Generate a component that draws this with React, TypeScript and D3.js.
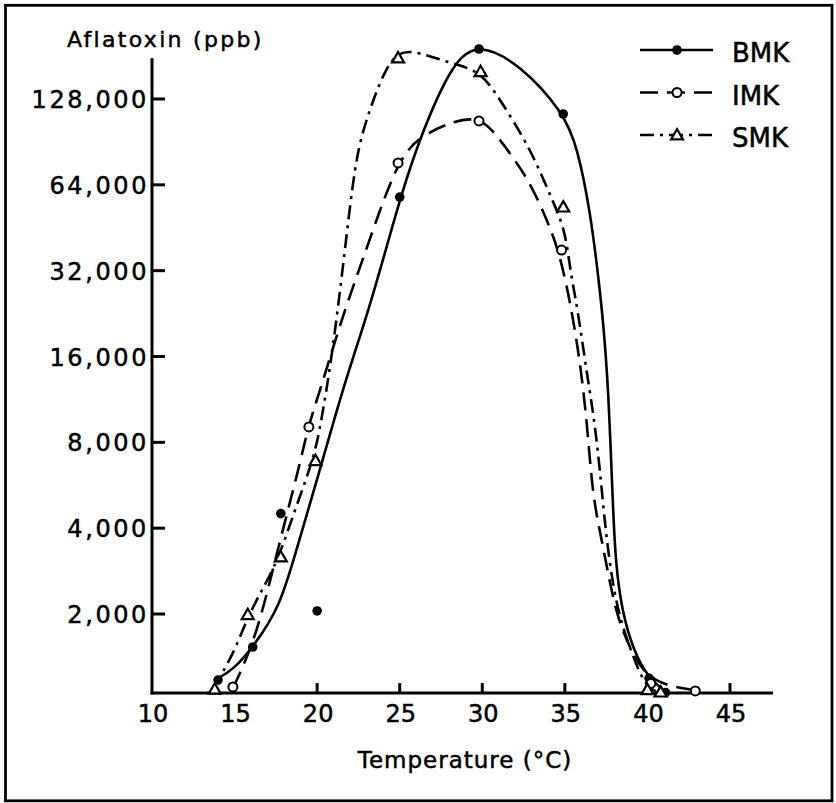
import React from "react";
import * as d3 from "d3";

const W = 836;
const H = 803;

// Axis ticks
const xTicks = [10, 15, 20, 25, 30, 35, 40, 45];
const yTicks = [2000, 4000, 8000, 16000, 32000, 64000, 128000];

const seriesNames = ["BMK", "IMK", "SMK"];

// Measured points: [temperature °C, aflatoxin ppb]
const bmkPoints = [
  [14, 1173], [16.1, 1532], [17.8, 4500], [20, 2050], [25, 58000],
  [29.8, 191700], [34.9, 113400], [40.1, 1190], [41.1, 1060],
];
const imkPoints = [
  [14.9, 1110], [19.5, 9060], [24.9, 76400], [29.8, 107200],
  [34.8, 37800], [40.2, 1140], [42.9, 1075],
];
const smkPoints = [
  [13.8, 1090], [15.8, 1990], [17.8, 3170], [19.9, 6900], [24.9, 178300],
  [29.9, 159600], [34.9, 53500], [40, 1085], [40.8, 1065],
];

// Fitted curves (hand-drawn in original)
const bmkCurve = [
  [13.82, 1173], [14.91, 1272], [16.12, 1532], [17.76, 2115], [18.79, 3436],
  [20.0, 5902], [21.7, 13240], [23.21, 23870], [25.03, 58000], [26.24, 94200],
  [28.18, 172000], [29.76, 202000], [32.3, 169000], [34.9, 115000],
  [35.76, 86900], [36.55, 51000], [37.03, 30400], [37.33, 21000],
  [37.64, 12200], [37.88, 5310], [38.06, 3020], [38.48, 2016], [39.15, 1496],
  [40.0, 1201], [41.2, 1056],
];
const imkCurve = [
  [14.91, 1100], [16.24, 1622], [17.27, 2786], [18.18, 4520], [18.97, 6770],
  [19.45, 9060], [20.18, 12200], [20.97, 17270], [21.82, 24650],
  [23.03, 38740], [24.85, 78000], [26.24, 95000], [28.24, 107000],
  [29.82, 111000], [30.91, 95000], [31.88, 79500], [32.91, 65000],
  [34.12, 45500], [34.85, 34000], [35.76, 18300], [36.36, 9350],
  [36.67, 5145], [37.33, 3435], [38.06, 2016], [38.97, 1500], [39.88, 1220],
  [41.2, 1118], [42.9, 1080],
];
const smkCurve = [
  [13.7, 1100], [14.91, 1436], [15.76, 1936], [16.67, 2430], [17.64, 3093],
  [18.79, 4900], [19.88, 7220], [20.36, 10390], [20.79, 14700],
  [21.27, 23870], [21.7, 38740], [22.3, 76400], [22.79, 99700],
  [23.39, 127000], [24.12, 162000], [24.91, 188000], [26.06, 188000],
  [28.18, 170000], [29.88, 161000], [31.09, 127000], [32.48, 94200],
  [33.39, 73900], [34.24, 56600], [35.03, 44400], [35.33, 31650],
  [35.76, 23870], [36.36, 13560], [36.73, 10140], [37.15, 6245],
  [37.45, 3940], [38.06, 2150], [38.97, 1500], [39.88, 1100], [40.8, 1060],
];

const X_MIN = 10;
const X_MAX = 47.6;
const Y_FLOOR = 1056;
const Y_TOP = 178000;

const x = d3.scaleLinear().domain([10, 45]).range([152, 730]);
const y = d3.scaleLog().base(2).domain([2000, 128000]).range([614, 99]);
const yc = (v: number) => y(Math.max(v, Y_FLOOR));

const line = d3
  .line<number[]>()
  .x((d) => x(d[0]))
  .y((d) => yc(d[1]))
  .curve(d3.curveBasis);

const fmt = d3.format(",");
const FONT = "'DejaVu Sans', sans-serif";
const TS = { stroke: "#000", strokeWidth: 0.5 };

const styles: Record<string, { dash: string | undefined; marker: string }> = {
  BMK: { dash: undefined, marker: "filled" },
  IMK: { dash: "18 9", marker: "circle" },
  SMK: { dash: "14 6 3 6", marker: "triangle" },
};

const tri = d3.symbol(d3.symbolTriangle, 62)() as string;

function Marker({ kind, cx, cy }: { kind: string; cx: number; cy: number }) {
  if (kind === "filled") return <circle cx={cx} cy={cy} r={4.8} fill="#000" />;
  if (kind === "circle")
    return <circle cx={cx} cy={cy} r={4.5} fill="#fff" stroke="#000" strokeWidth={2} />;
  return (
    <path d={tri} transform={`translate(${cx},${cy + 1})`} fill="#fff" stroke="#000" strokeWidth={2.2} />
  );
}

export default function App() {
  const series = [
    { name: "BMK", curve: bmkCurve, points: bmkPoints },
    { name: "IMK", curve: imkCurve, points: imkPoints },
    { name: "SMK", curve: smkCurve, points: smkPoints },
  ];
  const y0 = y(Y_FLOOR);
  return (
    <svg
      width={W}
      height={H}
      style={{ position: "absolute", left: 0, top: 0, background: "#fff" }}
    >
      <rect x={0} y={0} width={W} height={H} fill="#fff" />
      <rect x={5.5} y={5.3} width={826.5} height={795.5} fill="none" stroke="#000" strokeWidth={2.8} />

      {/* axes */}
      <line x1={x(X_MIN)} x2={x(X_MIN)} y1={y(Y_TOP)} y2={y0 + 1.5} stroke="#000" strokeWidth={3} />
      <line x1={x(X_MIN) - 1.5} x2={x(X_MAX)} y1={y0} y2={y0} stroke="#000" strokeWidth={3} />
      {yTicks.map((t) => (
        <g key={t}>
          <line x1={x(X_MIN)} x2={x(X_MIN) + 13} y1={y(t)} y2={y(t)} stroke="#000" strokeWidth={3} />
          <text
            x={x(X_MIN) - 3}
            y={y(t) + 9}
            textAnchor="end"
            fontFamily={FONT}
            fontSize={24}
            letterSpacing={2.6}
            fill="#000"
            {...TS}
          >
            {fmt(t)}
          </text>
        </g>
      ))}
      {xTicks.map((t) => (
        <g key={t}>
          {t !== X_MIN && (
            <line x1={x(t)} x2={x(t)} y1={y0} y2={y0 - 10} stroke="#000" strokeWidth={3} />
          )}
          <text x={x(t) + 1} y={y0 + 29} textAnchor="middle" fontFamily={FONT} fontSize={24} fill="#000" {...TS}>
            {t}
          </text>
        </g>
      ))}
      <text x={67} y={47} fontFamily={FONT} fontSize={22} letterSpacing={2.3} fill="#000" {...TS}>
        Aflatoxin (ppb)
      </text>
      <text x={465} y={768} textAnchor="middle" fontFamily={FONT} fontSize={23} letterSpacing={1} fill="#000" {...TS}>
        Temperature (°C)
      </text>

      {/* curves */}
      {series.map((s) => (
        <path
          key={s.name}
          d={line(s.curve) as string}
          fill="none"
          stroke="#000"
          strokeWidth={2.6}
          strokeDasharray={styles[s.name].dash}
        />
      ))}
      {/* markers */}
      {series.map((s) =>
        s.points.map((p, i) => (
          <Marker key={s.name + i} kind={styles[s.name].marker} cx={x(p[0])} cy={yc(p[1])} />
        ))
      )}

      {/* legend */}
      {seriesNames.map((n, i) => {
        const ly = 50 + i * 42.5;
        return (
          <g key={n}>
            <line x1={640} x2={713} y1={ly} y2={ly} stroke="#000" strokeWidth={2.6} strokeDasharray={styles[n].dash} />
            <Marker kind={styles[n].marker} cx={677} cy={ly} />
            <text x={732} y={ly + 12} fontFamily={FONT} fontSize={26} fill="#000" {...TS}>
              {n}
            </text>
          </g>
        );
      })}
    </svg>
  );
}
